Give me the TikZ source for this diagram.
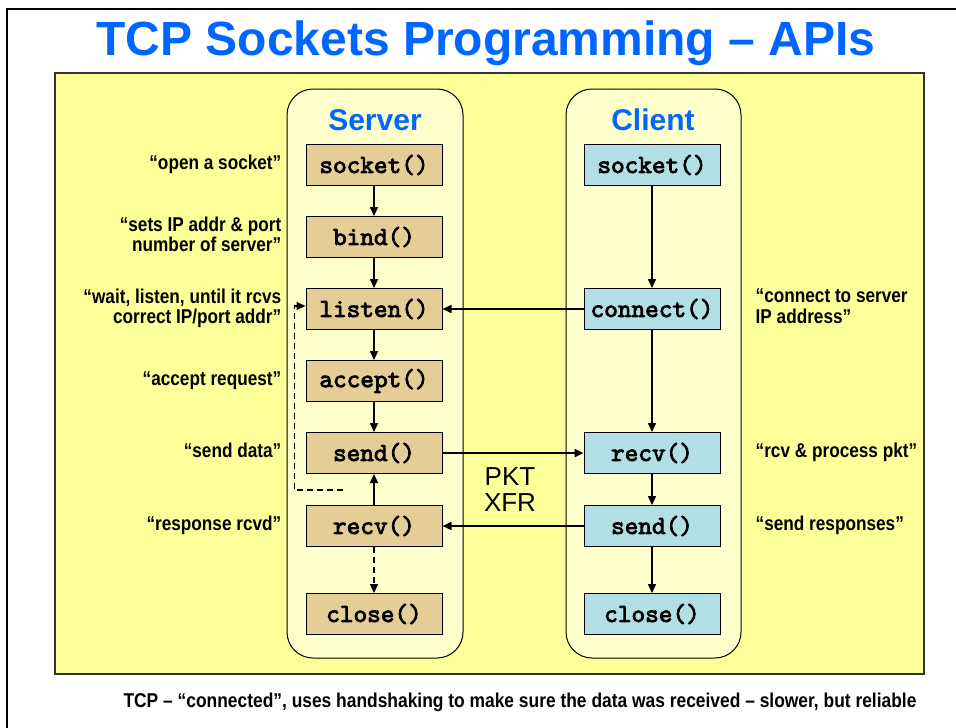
\documentclass[tikz,border=0pt]{standalone}
\usepackage{fontspec}
\setmainfont{Liberation Sans}
\setmonofont{lmmono10-regular.otf}[AutoFakeBold=3]
\usetikzlibrary{positioning, arrows.meta}

\definecolor{titleblue}{RGB}{0,102,255}
\definecolor{panelyellow}{RGB}{255,255,153}
\definecolor{colyellow}{RGB}{255,255,204}
\definecolor{srvtan}{RGB}{228,206,150}
\definecolor{cliblue}{RGB}{178,223,229}

% narrow bold text, right or left aligned
\newcommand{\noter}[1]{\scalebox{0.86}[1]{\begin{tabular}{@{}r@{}}#1\end{tabular}}}
\newcommand{\notel}[1]{\scalebox{0.86}[1]{\begin{tabular}{@{}l@{}}#1\end{tabular}}}

\tikzset{
  fnbox/.style={draw, line width=1pt, minimum width=136pt, minimum height=41pt, inner sep=0pt,
    font=\fontsize{26}{26}\selectfont\ttfamily\bfseries},
  srvfn/.style={fnbox, fill=srvtan},
  clifn/.style={fnbox, fill=cliblue},
  note/.style={inner sep=0pt, font=\fontsize{20}{19}\selectfont\bfseries},
  side/.style={draw, line width=1pt, fill=colyellow, rounded corners=26pt},
  flow/.style={-{Triangle[length=9pt,width=8pt]}, line width=1.6pt},
}

\begin{document}
\begin{tikzpicture}[x=1pt, y=-1pt]
    \useasboundingbox (0,0) rectangle (956,728);
    % Frame and title
    \draw[line width=2pt] (7,728) -- (7,9) -- (956,9);
    \node[anchor=base, inner sep=0pt, text=titleblue, font=\fontsize{48}{48}\selectfont\bfseries]
      (title) at (486,55) {TCP Sockets Programming -- APIs};

    % Panel and columns
    \draw[line width=1.5pt, draw=black!80, fill=panelyellow] (55,73) rectangle (924,674);
    \draw[side] (287,89) rectangle (463,658);
    \draw[side] (566,89) rectangle (741,658);
    \node[anchor=base, inner sep=0pt, text=titleblue, font=\fontsize{30}{30}\selectfont\bfseries]
      (srv) at (375,130) {Server};
    \node[anchor=base, inner sep=0pt, text=titleblue, font=\fontsize{30}{30}\selectfont\bfseries]
      (cli) at (653,130) {Client};

    % Server calls
    \foreach \n/\t/\y in {socket/socket()/165, bind/bind()/237, listen/listen()/309,
                          accept/accept()/381, send/send()/453, recv/recv()/526, close/close()/614} {
      \node[srvfn] (s-\n) at (374,\y) {\t};
    }
    % Client calls
    \foreach \n/\t/\y in {socket/socket()/165, connect/connect()/309, recv/recv()/453,
                          send/send()/526, close/close()/614} {
      \node[clifn] (c-\n) at (652,\y) {\t};
    }

    % Server flow
    \draw[flow] (s-socket) -- (s-bind);
    \draw[flow] (s-bind) -- (s-listen);
    \draw[flow] (s-listen) -- (s-accept);
    \draw[flow] (s-accept) -- (s-send);
    \draw[flow] (s-recv) -- (s-send);
    \draw[flow, dash pattern=on 6pt off 4pt] (s-recv) -- (s-close);
    \coordinate (loop) at (343,490);
    \draw[flow, dash pattern=on 6pt off 4pt] (loop) -| ([xshift=-11pt,yshift=3pt]s-listen.west) -- ([yshift=3pt]s-listen.west);

    % Client flow
    \draw[flow] (c-socket) -- (c-connect);
    \draw[flow] (c-connect) -- (c-recv);
    \draw[flow] (c-recv) -- (c-send);
    \draw[flow] (c-send) -- (c-close);

    % Between the two
    \draw[flow] (c-connect) -- (s-listen);
    \draw[flow, line width=2.6pt] (s-send) -- (c-recv);
    \draw[flow] (c-send) -- (s-recv);
    \node[align=center, inner sep=0pt, font=\fontsize{26}{26}\selectfont] (pkt) at (510,490) {PKT\\XFR};

    % Notes
    \node[note, anchor=east, left=24pt of s-socket] (n-socket) {\noter{“open a socket”}};
    \node[note, anchor=east, left=24pt of s-bind] (n-bind) {\noter{“sets IP addr \& port\\number of server”}};
    \node[note, anchor=east, left=24pt of s-listen] (n-listen) {\noter{“wait, listen, until it rcvs\\correct IP/port addr”}};
    \node[note, anchor=east, left=24pt of s-accept] (n-accept) {\noter{“accept request”}};
    \node[note, anchor=east, left=24pt of s-send] (n-send) {\noter{“send data”}};
    \node[note, anchor=east, left=24pt of s-recv] (n-recv) {\noter{“response rcvd”}};
    \node[note, right=35pt of c-connect] (m-connect) {\notel{“connect to server\\IP address”}};
    \node[note, right=35pt of c-recv] (m-recv) {\notel{“rcv \& process pkt”}};
    \node[note, right=35pt of c-send] (m-send) {\notel{“send responses”}};

    % Footer
    \node[anchor=base, inner sep=0pt, font=\fontsize{20}{20}\selectfont\bfseries] (foot) at (520,707)
      {\scalebox{0.87}[1]{TCP -- “connected”, uses handshaking to make sure the data was received -- slower, but reliable}};
\end{tikzpicture}
\end{document}
